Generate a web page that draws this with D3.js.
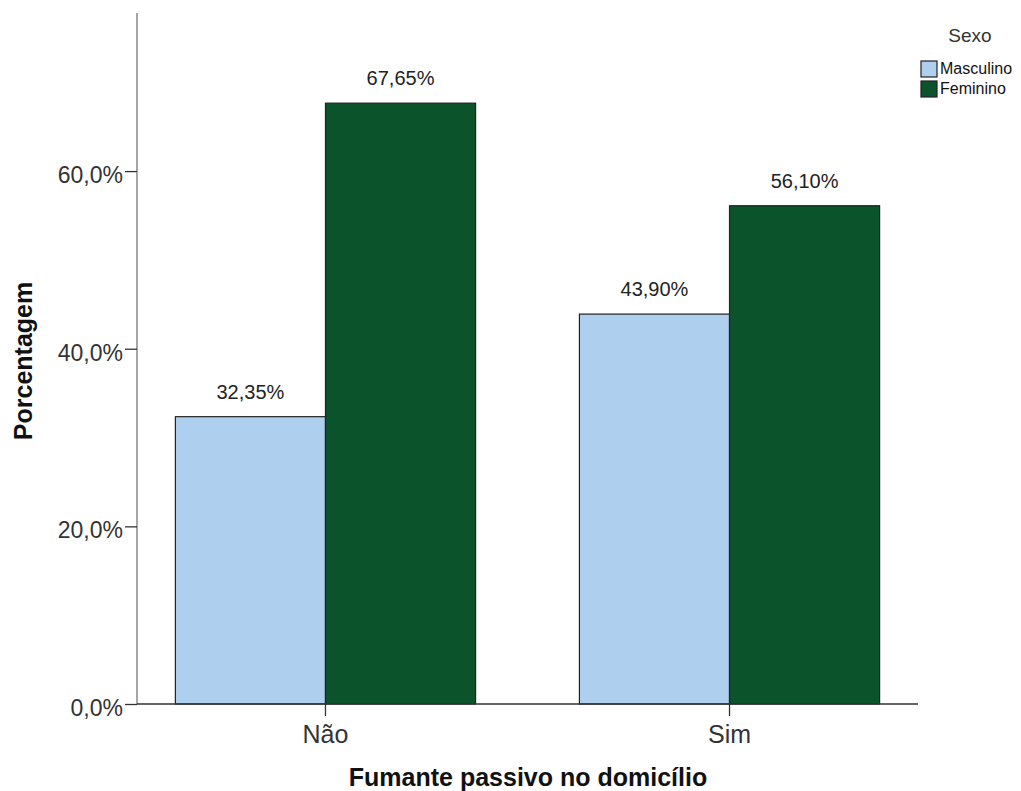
<!DOCTYPE html>
<html><head><meta charset="utf-8">
<script src="https://cdn.jsdelivr.net/npm/d3@7"></script>
<style>body{margin:0;background:#fff;font-family:"Liberation Sans",Arial,sans-serif;}</style>
</head><body><svg id="c" width="1021" height="791"></svg>
<script>
const categories = ["Não", "Sim"];
const seriesNames = ["Masculino", "Feminino"];
const masculino = [32.35, 43.90];
const feminino = [67.65, 56.10];
const yTicks = [0, 20, 40, 60];
const colors = ["#aecfee", "#0b532b"];

const svg = d3.select("#c");
const FF = "Liberation Sans, Arial, sans-serif";
const fmt = v => v.toFixed(1).replace(".", ",") + "%";
const fmtLab = v => v.toFixed(2).replace(".", ",") + "%";

const x = d3.scaleBand().domain(categories).range([137, 918]).paddingInner(0.257).paddingOuter(0.095);
const xs = d3.scaleBand().domain(seriesNames).range([0, x.bandwidth()]);
const y = d3.scaleLinear().domain([0, 77.8]).range([704, 13]);

const data = categories.map((c, i) => ({cat: c, vals: [masculino[i], feminino[i]]}));

const g = svg.append("g");
data.forEach(d => {
  d.vals.forEach((v, j) => {
    g.append("rect")
      .attr("x", x(d.cat) + xs(seriesNames[j]))
      .attr("y", y(v))
      .attr("width", xs.bandwidth())
      .attr("height", y(0) - y(v))
      .attr("fill", colors[j])
      .attr("stroke", "#222").attr("stroke-width", 1.2);
    g.append("text")
      .attr("x", x(d.cat) + xs(seriesNames[j]) + xs.bandwidth() / 2)
      .attr("y", y(v) - 18)
      .attr("text-anchor", "middle")
      .attr("font-size", 20).attr("fill", "#222")
      .text(fmtLab(v));
  });
});

// y axis
const ya = svg.append("g").attr("transform", "translate(137,0)")
  .call(d3.axisLeft(y).tickValues(yTicks).tickSize(12).tickPadding(2).tickFormat(fmt));
ya.select(".domain").attr("stroke", "#888").attr("stroke-width", 1.5).attr("d", `M0,${y(0)}V13`);
ya.selectAll(".tick line").attr("stroke", "#333").attr("stroke-width", 1.3);
ya.selectAll(".tick text").attr("font-size", 23).attr("fill", "#333").attr("font-family", FF)
  .attr("dy", "0.5em");

// x axis
const xa = svg.append("g").attr("transform", `translate(0,${y(0)})`)
  .call(d3.axisBottom(x).tickSize(12).tickPadding(5));
xa.select(".domain").attr("stroke", "#333").attr("stroke-width", 1.5).attr("d", "M137,0H918");
xa.selectAll(".tick line").attr("stroke", "#333").attr("stroke-width", 1.3);
xa.selectAll(".tick text").attr("font-size", 25).attr("fill", "#333").attr("font-family", FF)
  .attr("y", 39).attr("dy", 0);

// titles
svg.append("text").attr("x", 528).attr("y", 786).attr("text-anchor", "middle")
  .attr("font-size", 25).attr("font-weight", "bold").attr("fill", "#111").text("Fumante passivo no domicílio");
svg.append("text").attr("transform", "translate(32,361) rotate(-90)").attr("text-anchor", "middle")
  .attr("font-size", 25).attr("font-weight", "bold").attr("fill", "#111").text("Porcentagem");

// legend
const lg = svg.append("g");
lg.append("text").attr("x", 970).attr("y", 42).attr("text-anchor", "middle").attr("font-size", 19).attr("fill", "#333").text("Sexo");
seriesNames.forEach((s, i) => {
  lg.append("rect").attr("x", 921).attr("y", 61 + i * 20).attr("width", 16).attr("height", 16)
    .attr("fill", colors[i]).attr("stroke", "#222").attr("stroke-width", 1.2);
  lg.append("text").attr("x", 940).attr("y", 74 + i * 20).attr("font-size", 16).attr("fill", "#111").text(s);
});
</script></body></html>
